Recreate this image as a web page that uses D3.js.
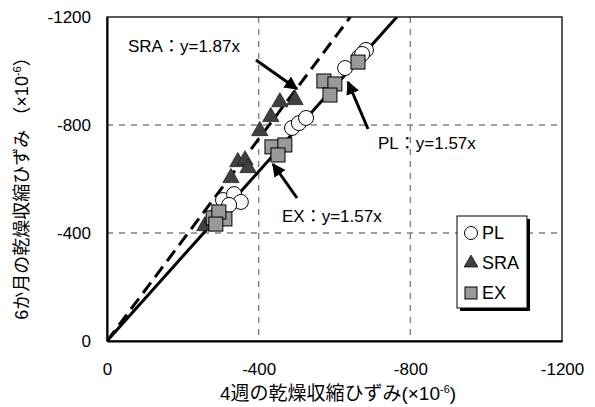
<!DOCTYPE html>
<html>
<head>
<meta charset="utf-8">
<script src="https://cdn.jsdelivr.net/npm/d3@7"></script>
<style>
  body { margin: 0; background: #fff; }
  svg text { font-family: "Liberation Sans", Arial, "Noto Sans CJK JP", sans-serif; fill: #000; }
</style>
</head>
<body>
<svg id="chart" width="595" height="407"></svg>
<script>
// 4週 (x) と 6か月 (y) の乾燥収縮ひずみ, ×10^-6
var plX = [-306, -335, -353, -322, -488, -506, -525, -628, -665, -683, -673];
var plY = [-522, -544, -515, -504, -789, -807, -826, -1011, -1052, -1078, -1063];
var sraX = [-258, -277, -327, -345, -364, -372, -403, -432, -456, -496];
var sraY = [-426, -456, -604, -663, -670, -641, -778, -830, -885, -893];
var exX = [-280, -311, -295, -287, -435, -469, -451, -572, -601, -588, -662];
var exY = [-456, -452, -478, -433, -719, -726, -689, -963, -952, -911, -1033];

var tickVals = [0, -400, -800, -1200];
var gridVals = [-400, -800];
var fits = [
  {name: 'PL/EX', k: 1.57, dash: null},
  {name: 'SRA', k: 1.87, dash: '13,7'}
];
var notes = [
  {text: 'SRA：y=1.87x', tx: 128, ty: 52, x1: 256, y1: 60, x2: 297, y2: 89},
  {text: 'PL：y=1.57x', tx: 378, ty: 149, x1: 368, y1: 129, x2: 348, y2: 82},
  {text: 'EX：y=1.57x', tx: 282, ty: 222, x1: 297, y1: 198, x2: 273, y2: 164}
];

var svg = d3.select('#chart');
var pLeft = 107, pRight = 562, pTop = 17, pBottom = 341;

var x = d3.scaleLinear().domain([0, -1200]).range([pLeft, pRight]);
var y = d3.scaleLinear().domain([0, -1200]).range([pBottom, pTop]);

//grid
svg.selectAll('.gx').data(gridVals).enter().append('line')
  .attr('x1', function(d){ return x(d); }).attr('x2', function(d){ return x(d); })
  .attr('y1', pTop).attr('y2', pBottom)
  .attr('stroke', '#808080').attr('stroke-width', 1.4).attr('stroke-dasharray', '6,6');
svg.selectAll('.gy').data(gridVals).enter().append('line')
  .attr('y1', function(d){ return y(d); }).attr('y2', function(d){ return y(d); })
  .attr('x1', pLeft).attr('x2', pRight)
  .attr('stroke', '#808080').attr('stroke-width', 1.4).attr('stroke-dasharray', '6,6');

//frame
svg.append('rect').attr('x', pLeft).attr('y', pTop)
  .attr('width', pRight - pLeft).attr('height', pBottom - pTop)
  .attr('fill', 'none').attr('stroke', '#000').attr('stroke-width', 1.3);

//axes
var xAxis = svg.append('g').attr('transform', 'translate(0,' + pBottom + ')')
  .call(d3.axisBottom(x).tickValues(tickVals).tickSize(0).tickPadding(22).tickFormat(function(d){ return String(d); }));
var yAxis = svg.append('g').attr('transform', 'translate(' + pLeft + ',0)')
  .call(d3.axisLeft(y).tickValues(tickVals).tickSize(0).tickPadding(16).tickFormat(function(d){ return String(d); }));
[xAxis, yAxis].forEach(function(g){
  g.select('.domain').attr('stroke', '#000').attr('stroke-width', 2);
  g.selectAll('text').attr('font-size', 17).attr('font-family', '"Liberation Sans", Arial, sans-serif');
});

//fit lines
svg.append('clipPath').attr('id', 'plot').append('rect')
  .attr('x', pLeft).attr('y', pTop).attr('width', pRight - pLeft).attr('height', pBottom - pTop);
svg.selectAll('.fit').data(fits).enter().append('line')
  .attr('clip-path', 'url(#plot)')
  .attr('x1', x(0)).attr('y1', y(0))
  .attr('x2', function(d){ return x(-1200 / d.k); }).attr('y2', y(-1200))
  .attr('stroke', '#000').attr('stroke-width', 3)
  .attr('stroke-dasharray', function(d){ return d.dash; });

//points
var tri = d3.symbol().type(d3.symbolTriangle).size(115);
svg.selectAll('.sra').data(d3.range(sraX.length)).enter().append('path')
  .attr('d', tri)
  .attr('transform', function(i){ return 'translate(' + x(sraX[i]) + ',' + y(sraY[i]) + ')'; })
  .attr('fill', '#404040').attr('stroke', '#222').attr('stroke-width', 0.8);
svg.selectAll('.pl').data(d3.range(plX.length)).enter().append('circle')
  .attr('cx', function(i){ return x(plX[i]); }).attr('cy', function(i){ return y(plY[i]); })
  .attr('r', 7.5).attr('fill', '#fff').attr('stroke', '#000').attr('stroke-width', 1);
svg.selectAll('.ex').data(d3.range(exX.length)).enter().append('rect')
  .attr('x', function(i){ return x(exX[i]) - 7; }).attr('y', function(i){ return y(exY[i]) - 7; })
  .attr('width', 14).attr('height', 14)
  .attr('fill', '#999').attr('stroke', '#000').attr('stroke-width', 1);

//annotations
svg.append('defs').append('marker').attr('id', 'arr')
  .attr('viewBox', '0 0 10 10').attr('refX', 9).attr('refY', 5)
  .attr('markerWidth', 4.5).attr('markerHeight', 4.5).attr('orient', 'auto')
  .append('path').attr('d', 'M0,0L10,5L0,10z').attr('fill', '#000');
var ann = svg.selectAll('.note').data(notes).enter().append('g');
ann.append('line')
  .attr('x1', function(d){ return d.x1; }).attr('y1', function(d){ return d.y1; })
  .attr('x2', function(d){ return d.x2; }).attr('y2', function(d){ return d.y2; })
  .attr('stroke', '#000').attr('stroke-width', 3).attr('marker-end', 'url(#arr)');
ann.append('text')
  .attr('x', function(d){ return d.tx; }).attr('y', function(d){ return d.ty; })
  .attr('font-size', 17).text(function(d){ return d.text; });

//legend
var lg = svg.append('g').attr('transform', 'translate(457,216)');
lg.append('rect').attr('x', 3).attr('y', 3).attr('width', 70).attr('height', 92).attr('fill', '#000');
lg.append('rect').attr('width', 70).attr('height', 92).attr('fill', '#fff').attr('stroke', '#000').attr('stroke-width', 1);
lg.append('circle').attr('cx', 14).attr('cy', 17).attr('r', 6.5).attr('fill', '#fff').attr('stroke', '#000');
lg.append('path').attr('d', d3.symbol().type(d3.symbolTriangle).size(80))
  .attr('transform', 'translate(14,47)').attr('fill', '#404040').attr('stroke', '#222');
lg.append('rect').attr('x', 8).attr('y', 71).attr('width', 12).attr('height', 12)
  .attr('fill', '#999').attr('stroke', '#000');
lg.selectAll('.lt').data(['PL', 'SRA', 'EX']).enter().append('text')
  .attr('x', 25).attr('y', function(d, i){ return 23 + i * 30; })
  .attr('font-size', 18).text(function(d){ return d; });

//axis titles
var xt = svg.append('text').attr('x', 338).attr('y', 400).attr('text-anchor', 'middle').attr('font-size', 19);
xt.append('tspan').text('4週の乾燥収縮ひずみ(×10');
xt.append('tspan').attr('font-size', 11).attr('dy', -7).text('-6');
xt.append('tspan').attr('dy', 7).text(')');
var yt = svg.append('text').attr('transform', 'translate(28,184) rotate(-90)')
  .attr('text-anchor', 'middle').attr('font-size', 18);
yt.append('tspan').text('6か月の乾燥収縮ひずみ （×10');
yt.append('tspan').attr('font-size', 11).attr('dy', -7).text('-6');
yt.append('tspan').attr('dy', 7).text('）');
</script>
</body>
</html>
